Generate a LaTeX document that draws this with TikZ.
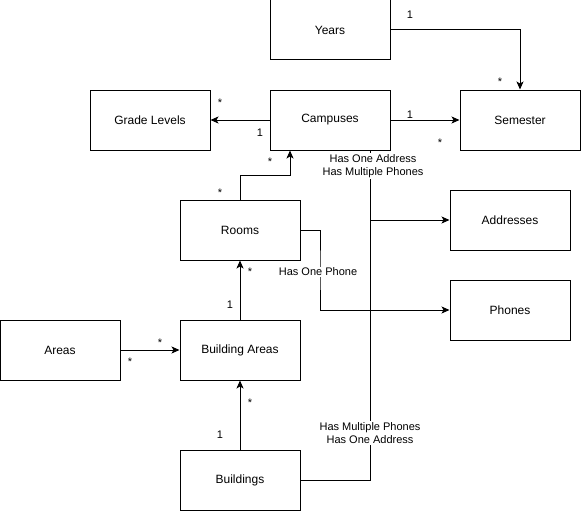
\documentclass[tikz,border=0pt]{standalone}
\usepackage{fontspec}
\setmainfont{Liberation Sans}
\usetikzlibrary{arrows.meta}
\tikzset{
  entity/.style={rectangle, draw=black, line width=1pt, minimum width=120pt, minimum height=60pt, inner sep=0pt, font=\fontsize{12}{14}\selectfont},
  rel/.style={-{Stealth[length=8pt,width=7pt,inset=2pt]}, line width=1pt},
  mult/.style={font=\fontsize{11}{13}\selectfont, inner sep=1pt},
  role/.style={fill=white, align=center, font=\fontsize{11}{13}\selectfont, inner sep=1pt}
}
\begin{document}
\begin{tikzpicture}[x=1pt, y=-1pt]
  \useasboundingbox (0,0) rectangle (581,511);
  % Entitaeten
  \node [entity] (years) at (330,30) {Years};
  \node [entity] (campuses) at (330,120) {Campuses};
  \node [entity] (grade) at (150,120) {Grade Levels};
  \node [entity] (semester) at (520,120) {Semester};
  \node [entity] (rooms) at (240,230) {Rooms};
  \node [entity] (addresses) at (510,220) {Addresses};
  \node [entity] (phones) at (510,310) {Phones};
  \node [entity] (areas) at (60,350) {Areas};
  \node [entity] (barea) at (240,350) {Building Areas};
  \node [entity] (buildings) at (240,480) {Buildings};

  % Knickpunkte
  \coordinate (roomsbend) at (290,175);
  \coordinate (phonebend) at (320,270);
  \coordinate (split) at (370,220);
  \coordinate (busbottom) at (370,480);

  % Pfeile
  \draw[rel] (years.east) -| (semester.north);
  \draw[rel] (campuses) -- (semester);
  \draw[rel] (campuses) -- (grade);
  \draw[rel] (rooms.north) |- (roomsbend) -- (campuses.south -| roomsbend);
  \draw[rel] (barea) -- (rooms);
  \draw[rel] (areas) -- (barea);
  \draw[rel] (buildings) -- (barea);
  \draw[rel] (rooms.east) -| (phonebend) |- (phones.west);
  \draw[line width=1pt] (campuses.south -| busbottom) -- (busbottom) -- (buildings.east);
  \draw[rel] (split) -- (addresses.west);

  % Rollen
  \node [role] (phonerole) at (318,272) {Has One Phone};
  \node [role] (campusrole) at (373,166) {Has One Address\\Has Multiple Phones};
  \node [role] (buildingrole) at (370,433) {Has Multiple Phones\\Has One Address};

  % Multiplizitaeten
  \node [mult] (yearsone) at (410,15) {1};
  \node [mult] (semtop) at (500,82) {*};
  \node [mult] (campone) at (410,115) {1};
  \node [mult] (semleft) at (440,143) {*};
  \node [mult] (gradestar) at (220,103) {*};
  \node [mult] (campgrade) at (260,133) {1};
  \node [mult] (roomstop) at (220,193) {*};
  \node [mult] (campbottom) at (270,162) {*};
  \node [mult] (roomsbottom) at (250,272) {*};
  \node [mult] (bareatop) at (230,305) {1};
  \node [mult] (barealeft) at (160,343) {*};
  \node [mult] (areasright) at (130,362) {*};
  \node [mult] (bareabottom) at (250,403) {*};
  \node [mult] (buildtop) at (220,435) {1};
\end{tikzpicture}
\end{document}
